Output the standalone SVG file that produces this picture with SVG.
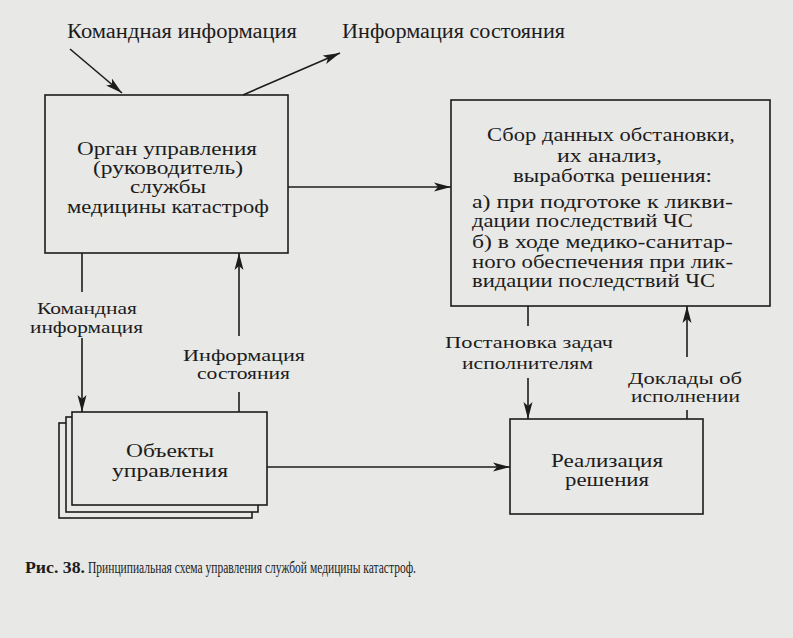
<svg xmlns="http://www.w3.org/2000/svg" width="793" height="638" viewBox="0 0 793 638">
<defs>
<marker id="ah" markerUnits="userSpaceOnUse" markerWidth="18" markerHeight="10" refX="17" refY="5" orient="auto">
<path d="M0,0.5 L17,5 L0,9.5 L4,5 z" fill="#1c1c1c"/>
</marker>
<style>
.bg{fill:#e8e8e6}
.box{fill:none;stroke:#1c1c1c;stroke-width:1.6}
.sheet{fill:#e8e8e6;stroke:#1c1c1c;stroke-width:1.6}
.ln{fill:none;stroke:#1c1c1c;stroke-width:1.6}
.ar{fill:none;stroke:#1c1c1c;stroke-width:1.6;marker-end:url(#ah)}
text{font-family:"Liberation Serif","DejaVu Serif",serif;fill:#1c1c1c;font-size:18px}
.top{font-size:20px}
.lb{font-size:16.5px}
.c{text-anchor:middle}
.cap{font-size:16px}
</style>
</defs>
<rect class="bg" x="0" y="0" width="793" height="638"/>

<g id="connectors">
<line class="ar" x1="70" y1="49" x2="122" y2="93"/>
<line class="ar" x1="243" y1="95" x2="340" y2="53"/>
<line class="ar" x1="288" y1="187" x2="451" y2="187"/>
<line class="ln" x1="82" y1="253" x2="82" y2="292"/>
<line class="ar" x1="82" y1="338" x2="82" y2="412"/>
<line class="ln" x1="239" y1="412" x2="239" y2="392"/>
<line class="ar" x1="239" y1="336" x2="239" y2="253"/>
<line class="ar" x1="267" y1="467" x2="510" y2="467"/>
<line class="ln" x1="528" y1="306" x2="528" y2="326"/>
<line class="ar" x1="528" y1="378" x2="528" y2="419"/>
<line class="ln" x1="687" y1="419" x2="687" y2="410"/>
<line class="ar" x1="687" y1="357" x2="687" y2="306"/>
</g>

<g id="label-cmd-top"><text class="top" x="67" y="38" textLength="230" lengthAdjust="spacingAndGlyphs">Командная информация</text></g>
<g id="label-state-top"><text class="top" x="342" y="38" textLength="223" lengthAdjust="spacingAndGlyphs">Информация состояния</text></g>

<g id="node-organ">
<rect class="box" x="45" y="95" width="243" height="158"/>
<text x="77" y="155" textLength="180" lengthAdjust="spacingAndGlyphs">Орган управления</text>
<text x="93" y="174" textLength="150" lengthAdjust="spacingAndGlyphs">(руководитель)</text>
<text x="130" y="193" textLength="76" lengthAdjust="spacingAndGlyphs">службы</text>
<text x="67" y="213" textLength="202" lengthAdjust="spacingAndGlyphs">медицины катастроф</text>
</g>

<g id="node-analysis">
<rect class="box" x="451" y="100" width="319" height="206"/>
<text x="487" y="141" textLength="248" lengthAdjust="spacingAndGlyphs">Сбор данных обстановки,</text>
<text x="557" y="162" textLength="105" lengthAdjust="spacingAndGlyphs">их анализ,</text>
<text x="513" y="182" textLength="199" lengthAdjust="spacingAndGlyphs">выработка решения:</text>
<text x="472" y="208" textLength="261" lengthAdjust="spacingAndGlyphs">а) при подготоке к ликви-</text>
<text x="472" y="227" textLength="221" lengthAdjust="spacingAndGlyphs">дации последствий ЧС</text>
<text x="472" y="248" textLength="261" lengthAdjust="spacingAndGlyphs">б) в ходе медико-санитар-</text>
<text x="472" y="268" textLength="261" lengthAdjust="spacingAndGlyphs">ного обеспечения при лик-</text>
<text x="472" y="287" textLength="243" lengthAdjust="spacingAndGlyphs">видации последствий ЧС</text>
</g>

<g id="label-cmd-low">
<text class="lb" x="37" y="314" textLength="100" lengthAdjust="spacingAndGlyphs">Командная</text>
<text class="lb" x="30" y="333" textLength="113" lengthAdjust="spacingAndGlyphs">информация</text>
</g>
<g id="label-state-low">
<text class="lb" x="183" y="361" textLength="122" lengthAdjust="spacingAndGlyphs">Информация</text>
<text class="lb" x="197" y="379" textLength="93" lengthAdjust="spacingAndGlyphs">состояния</text>
</g>

<g id="node-objects">
<rect class="sheet" x="59" y="423" width="193" height="95"/>
<rect class="sheet" x="66" y="417" width="192" height="95"/>
<rect class="sheet" x="72" y="412" width="195" height="93"/>
<text x="126" y="457" textLength="88" lengthAdjust="spacingAndGlyphs">Объекты</text>
<text x="112" y="477" textLength="116" lengthAdjust="spacingAndGlyphs">управления</text>
</g>

<g id="label-tasks">
<text class="lb" x="445" y="348" textLength="168" lengthAdjust="spacingAndGlyphs">Постановка задач</text>
<text class="lb" x="462" y="369" textLength="131" lengthAdjust="spacingAndGlyphs">исполнителям</text>
</g>
<g id="label-reports">
<text class="lb" x="628" y="384" textLength="114" lengthAdjust="spacingAndGlyphs">Доклады об</text>
<text class="lb" x="631" y="402" textLength="109" lengthAdjust="spacingAndGlyphs">исполнении</text>
</g>

<g id="node-realization">
<rect class="box" x="510" y="419" width="193" height="95"/>
<text x="551" y="467" textLength="112" lengthAdjust="spacingAndGlyphs">Реализация</text>
<text x="565" y="486" textLength="84" lengthAdjust="spacingAndGlyphs">решения</text>
</g>

<g id="caption">
<text class="cap" x="25" y="573" font-weight="bold" textLength="60" lengthAdjust="spacingAndGlyphs">Рис. 38.</text>
<text class="cap" x="88" y="573" textLength="328" lengthAdjust="spacingAndGlyphs">Принципиальная схема управления службой медицины катастроф.</text>
</g>
</svg>
